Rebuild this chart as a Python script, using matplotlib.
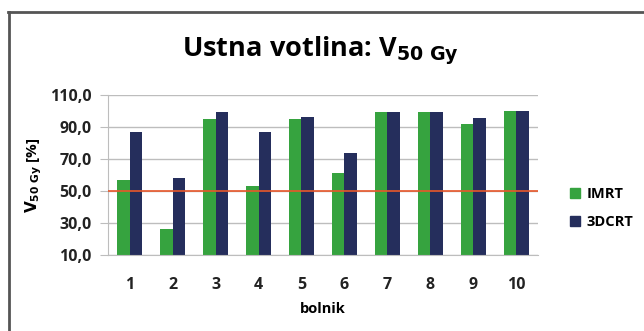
import numpy as np
import matplotlib.pyplot as plt
from matplotlib.lines import Line2D
from matplotlib.patches import Patch

plt.rcParams['font.family'] = ['Open Sans', 'DejaVu Sans']

bolnik = ['1', '2', '3', '4', '5', '6', '7', '8', '9', '10']
imrt = [57, 26, 95, 53, 95, 61, 99.5, 99.5, 92, 100]
crt3d = [87, 58, 99.5, 87, 96.5, 73.5, 99.5, 99.5, 95.5, 100]
yticks = [10, 30, 50, 70, 90, 110]
meja = 50

green = '#36a33f'
navy = '#252e5c'

fig = plt.figure(figsize=(6.44, 3.31), dpi=100)
ax = fig.add_axes([0.168, 0.2296, 0.667, 0.4834])

x = np.arange(1, len(bolnik) + 1)
w = 0.285
ax.bar(x - w / 2, imrt, w, bottom=0, color=green, label='IMRT', zorder=2)
ax.bar(x + w / 2, crt3d, w, bottom=0, color=navy, label='3DCRT', zorder=2)
ax.axhline(meja, color='#e8572a', lw=1.2, zorder=3)

ax.set_ylim(10, 110)
ax.set_xlim(0.5, len(bolnik) + 0.5)
ax.set_yticks(yticks)
ax.set_yticklabels([f'{v:.1f}'.replace('.', ',') for v in yticks],
                   fontsize=11.5, fontweight='bold', color='#222222')
ax.set_xticks(x)
ax.set_xticklabels(bolnik, fontsize=11.5, fontweight='bold', color='#222222')
ax.tick_params(axis='x', length=0, pad=16)
ax.tick_params(axis='y', length=6, color='#bdbdbd', pad=6)
ax.grid(axis='y', color='#bdbdbd', lw=1, zorder=0)
for s in ['top', 'right']:
    ax.spines[s].set_visible(False)
ax.spines['left'].set_color('#bdbdbd')
ax.spines['bottom'].set_color('#bdbdbd')
ax.spines['left'].set_zorder(1)

ax.set_xlabel('bolnik', fontsize=10.5, fontweight='bold', labelpad=6)
ax.set_ylabel(r'$\mathbf{V_{50\ Gy}}$ [%]', fontsize=11, fontweight='bold', labelpad=4)

fig.text(0.497, 0.845, r'Ustna votlina: V$_{\mathbf{50\ Gy}}$', ha='center', va='center',
         fontsize=19.5, fontweight='bold', math_fontfamily='dejavusans')

handles = [Patch(color=green, label='IMRT'), Patch(color=navy, label='3DCRT')]
fig.legend(handles=handles, loc='center left', bbox_to_anchor=(0.865, 0.371),
           frameon=False, handlelength=0.7, handleheight=0.7,
           handletextpad=0.4, labelspacing=1.0, prop={'weight': 'bold', 'size': 10.5})

# frame around the chart
fig.add_artist(Line2D([0.014, 0.014], [0, 0.964], color='#555555', lw=2))
fig.add_artist(Line2D([0.013, 1.0], [0.964, 0.964], color='#555555', lw=2))

fig.savefig('out.png', dpi=100)
